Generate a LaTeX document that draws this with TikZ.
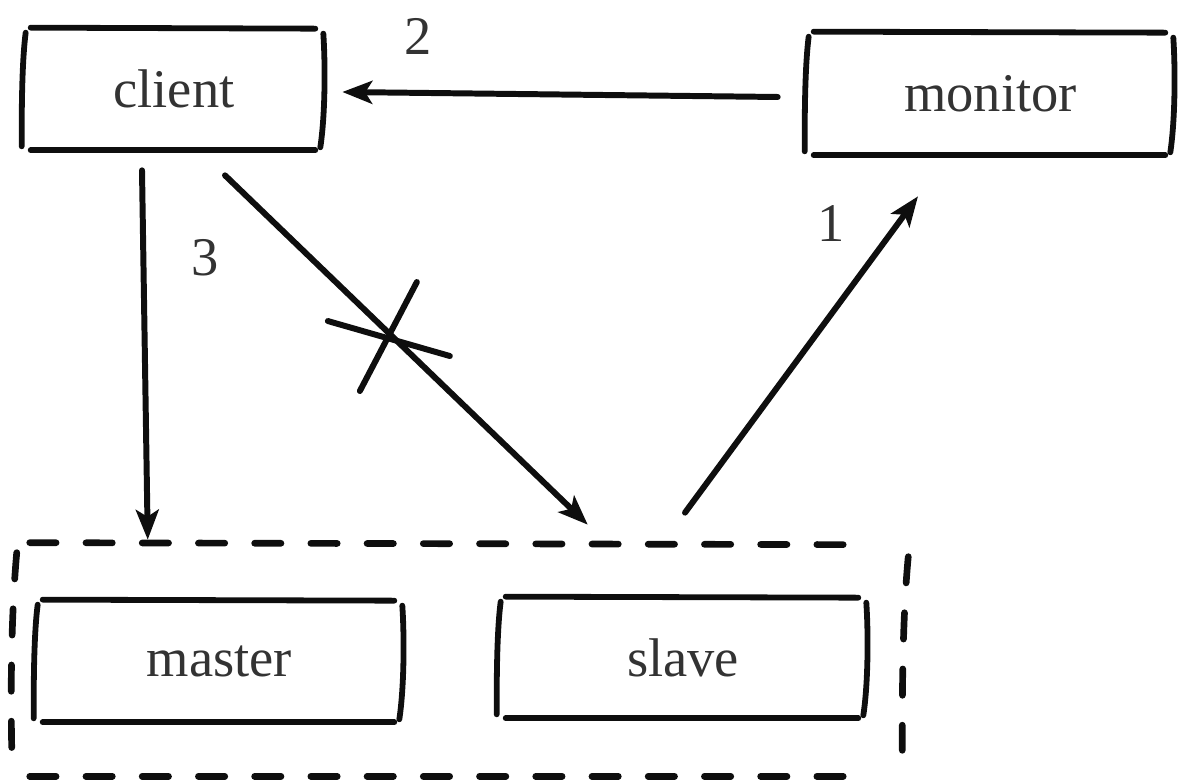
\documentclass[tikz,border=0pt]{standalone}
\usepackage{fontspec}
\setmainfont{Liberation Serif}
\usetikzlibrary{arrows.meta,calc}
\definecolor{ink}{HTML}{0E0E0E}
\definecolor{txt}{HTML}{333333}
\newcommand{\skframe}[1]{%
 \draw[stroke] ($(#1.north west)+(6,0)$) -- ($(#1.north east)+(-8,1)$);
 \draw[stroke] ($(#1.south west)+(6,0)$) -- ($(#1.south east)+(-8,0)$);
 \draw[stroke] ($(#1.north west)+(1,5)$) .. controls ($(#1.west)+(-3,-25)$) and ($(#1.west)+(-3,25)$) .. ($(#1.south west)+(-3,-4)$);
 \draw[stroke] ($(#1.north east)+(0,6)$) .. controls ($(#1.east)+(2,-25)$) and ($(#1.east)+(2,25)$) .. ($(#1.south east)+(-3,-3)$);
}
\begin{document}
\begin{tikzpicture}[x=0.02cm,y=-0.02cm,
  lbl/.style={font=\fontsize{31}{36}\selectfont, text=txt, inner sep=0pt},
  frame/.style={inner sep=0pt, draw=none},
  stroke/.style={line width=3.3pt, line cap=round, draw=ink},
  arr/.style={line width=3.4pt, line cap=round, draw=ink, -{Stealth[length=17pt,width=13pt,inset=4pt]}},
  dsh/.style={line width=3.8pt, draw=ink, line cap=round, dash pattern=on 15pt off 17pt}]
\useasboundingbox (0,0) rectangle (1178,783);

% nodes
\node[frame, lbl, minimum width=5.96cm, minimum height=2.44cm] (client) at (174,89) {client};
\node[frame, lbl, minimum width=7.30cm, minimum height=2.46cm] (monitor) at (990.5,93.5) {monitor};
\node[frame, lbl, minimum width=7.30cm, minimum height=2.44cm] (master) at (219.5,661) {master};
\node[frame, lbl, minimum width=7.32cm, minimum height=2.42cm] (slave) at (683,657.5) {slave};
\node[frame, minimum width=17.8cm, minimum height=4.66cm] (group) at (460,659.5) {};

\skframe{client}
\skframe{monitor}
\skframe{master}
\skframe{slave}

% dashed group outline
\draw[dsh] ($(group.north west)+(15,0)$) -- ($(group.north east)+(-55,2)$);
\draw[dsh] ($(group.south west)+(15,0)$) -- ($(group.south east)+(-55,0)$);
\draw[dsh] ($(group.north west)+(2,10)$) .. controls ($(group.west)+(-4,-40)$) and ($(group.west)+(-4,40)$) .. ($(group.south west)+(-3,-28)$);
\draw[dsh] ($(group.north east)+(3,14)$) .. controls ($(group.east)+(-3,-40)$) and ($(group.east)+(-3,40)$) .. ($(group.south east)+(-3,-26)$);

% connectors
\draw[arr] ($(monitor.west)+(-30,3.5)$) -- ($(client.east)+(19,3)$);
\draw[arr] ($(client.south)+(-32,20)$) -- ($(group.north west)+(133,-3)$);
\draw[arr] ($(client.south)+(51,25)$) -- coordinate[pos=0.46] (cut) ($(group.north west)+(573,-18)$);
\draw[arr] ($(slave.north)+(2,-84)$) -- ($(monitor.south)+(-72.5,41)$);

% cross mark
\draw[stroke, line width=3.4pt] ($(cut)+(-64,-15)$) -- ($(cut)+(58,20)$);
\draw[stroke, line width=3.4pt] ($(cut)+(-32,55)$) -- ($(cut)+(25,-54)$);

% labels
\node[lbl] (l2) at (418,36) {2};
\node[lbl] (l3) at (205,258) {3};
\node[lbl] (l1) at (831,224) {1};
\end{tikzpicture}
\end{document}
